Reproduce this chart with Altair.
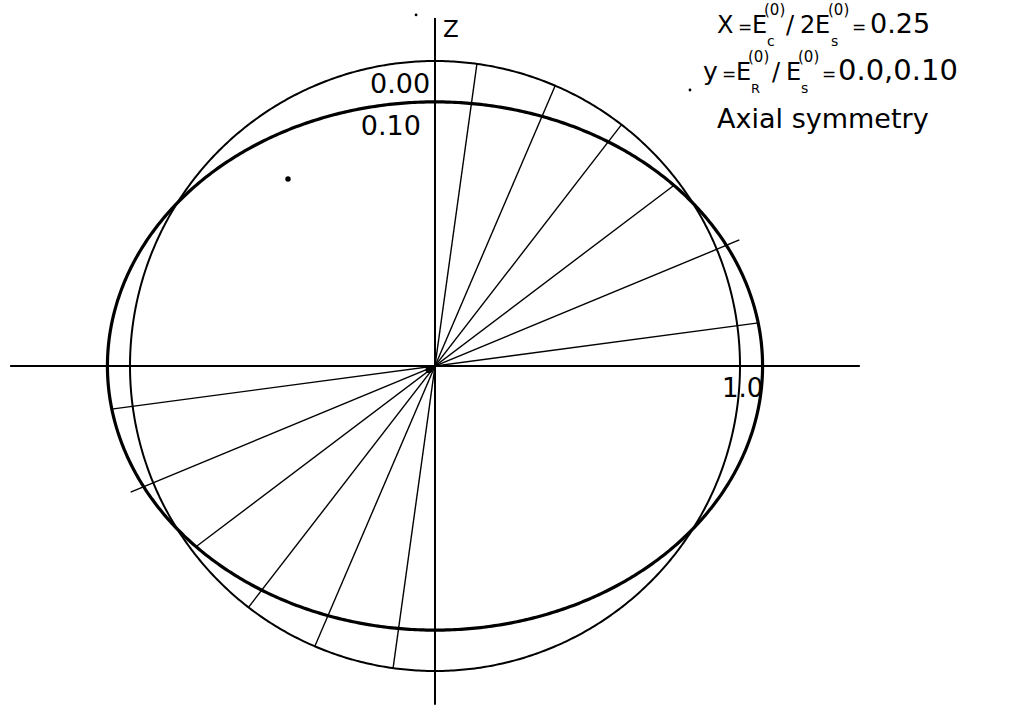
import altair as alt
import numpy as np
import pandas as pd

# Nuclear surface contours in the (x, z) meridian plane, unit = sphere radius.
# name, semi-axis along x, semi-axis along z, stroke width
contour_names = ["0.00", "0.10"]
contour_ax = [1.0, 1.074]
contour_az = [1.0, 0.866]
contour_width = [2.0, 3.2]

# Diameters drawn through the centre: direction (deg from x axis) and half length
ray_angle_deg = [7.6, 22.5, 37.1, 52.3, 66.8, 82.1]
ray_half_len = [1.07, 1.08, 0.98, 1.0, 1.0, 1.0]

# Coordinate axes extents
axis_x_extent = [-1.393, 1.393]
axis_z_extent = [-1.111, 1.141]

# Plot window (same units per pixel on both axes: 305 px per unit)
x_domain = [-1.42623, 1.88525]
y_domain = [-1.14098, 1.2]

# Left-aligned annotation pieces: text, x, y, font size
left_text = ["Z", "1.0",
             # X = Ec(0) / 2 Es(0) = 0.25
             "X", "=", "E", "(0)", "c", "/", "2", "E", "(0)", "s", "=", "0.25",
             # y = ER(0) / Es(0) = 0.0,0.10
             "y", "=", "E", "(0)", "R", "/", "E", "(0)", "s", "=", "0.0,0.10",
             "Axial symmetry"]
left_x = [0.026, 0.941,
          0.9246, 0.9934, 1.0393, 1.0787, 1.0885, 1.1508, 1.1967, 1.2459, 1.2885, 1.2984, 1.3672, 1.4262,
          0.8787, 0.9410, 0.9869, 1.0262, 1.0361, 1.1049, 1.1508, 1.1902, 1.2000, 1.2689, 1.3213,
          0.925]
left_y = [1.079, -0.102,
          1.092, 1.092, 1.092, 1.151, 1.049, 1.092, 1.092, 1.092, 1.151, 1.049, 1.092, 1.092,
          0.938, 0.938, 0.938, 0.997, 0.895, 0.938, 0.938, 0.997, 0.895, 0.938, 0.938,
          0.780]
left_size = [23, 26,
             24, 17, 24, 15, 14, 24, 24, 24, 15, 14, 17, 27,
             25, 17, 24, 15, 13, 24, 24, 15, 14, 17, 29,
             27]

# Contour labels, right-aligned
right_text = ["0.00", "0.10"]
right_x = [-0.016, -0.046]
right_y = [0.895, 0.757]
right_size = [27, 27]

# Ink specks
speck_x = [-0.482, -0.062, 0.836, -0.02]
speck_y = [0.613, 1.151, 0.905, -0.012]
speck_size = [30, 8, 8, 45]

xs = alt.X("x:Q", scale=alt.Scale(domain=x_domain, nice=False, zero=False), axis=None)
ys = alt.Y("y:Q", scale=alt.Scale(domain=y_domain, nice=False, zero=False), axis=None)

# contour polylines
rows = []
t = np.linspace(0.0, 2.0 * np.pi, 721)
for name, ax_, az_, w in zip(contour_names, contour_ax, contour_az, contour_width):
    for i, tt in enumerate(t):
        rows.append({"name": name, "i": i, "x": ax_ * np.cos(tt), "y": az_ * np.sin(tt), "w": w})
contours = pd.DataFrame(rows)

rays = pd.DataFrame({
    "x": [-r * np.cos(np.radians(a)) for a, r in zip(ray_angle_deg, ray_half_len)],
    "y": [-r * np.sin(np.radians(a)) for a, r in zip(ray_angle_deg, ray_half_len)],
    "x2": [r * np.cos(np.radians(a)) for a, r in zip(ray_angle_deg, ray_half_len)],
    "y2": [r * np.sin(np.radians(a)) for a, r in zip(ray_angle_deg, ray_half_len)],
})

axes_df = pd.DataFrame({
    "x": [axis_x_extent[0], 0.0],
    "x2": [axis_x_extent[1], 0.0],
    "y": [0.0, axis_z_extent[0]],
    "y2": [0.0, axis_z_extent[1]],
})

left_df = pd.DataFrame({"text": left_text, "x": left_x, "y": left_y, "size": left_size})
right_df = pd.DataFrame({"text": right_text, "x": right_x, "y": right_y, "size": right_size})
speck_df = pd.DataFrame({"x": speck_x, "y": speck_y, "size": speck_size})

font = "DejaVu Sans"

axes_layer = alt.Chart(axes_df).mark_rule(color="black", strokeWidth=2).encode(
    x=xs, y=ys, x2="x2:Q", y2="y2:Q")

ray_layer = alt.Chart(rays).mark_rule(color="black", strokeWidth=1.4).encode(
    x=xs, y=ys, x2="x2:Q", y2="y2:Q")

contour_layer = alt.Chart(contours).mark_line(color="black", strokeJoin="round").encode(
    x=xs, y=ys, order="i:Q", detail="name:N",
    strokeWidth=alt.StrokeWidth("w:Q", scale=None, legend=None))

left_layer = alt.Chart(left_df).mark_text(
    align="left", baseline="alphabetic", font=font, color="black").encode(
    x=xs, y=ys, text="text:N", size=alt.Size("size:Q", scale=None, legend=None))

right_layer = alt.Chart(right_df).mark_text(
    align="right", baseline="alphabetic", font=font, color="black").encode(
    x=xs, y=ys, text="text:N", size=alt.Size("size:Q", scale=None, legend=None))

speck_layer = alt.Chart(speck_df).mark_point(filled=True, color="black", opacity=1).encode(
    x=xs, y=ys, size=alt.Size("size:Q", scale=None, legend=None))

chart = alt.layer(
    axes_layer, ray_layer, contour_layer, left_layer, right_layer, speck_layer
).properties(
    width=1010, height=714, padding=0, autosize="none", background="white"
).configure_view(stroke=None)

chart.save("out.html", embed_options={"renderer": "svg", "actions": False})
